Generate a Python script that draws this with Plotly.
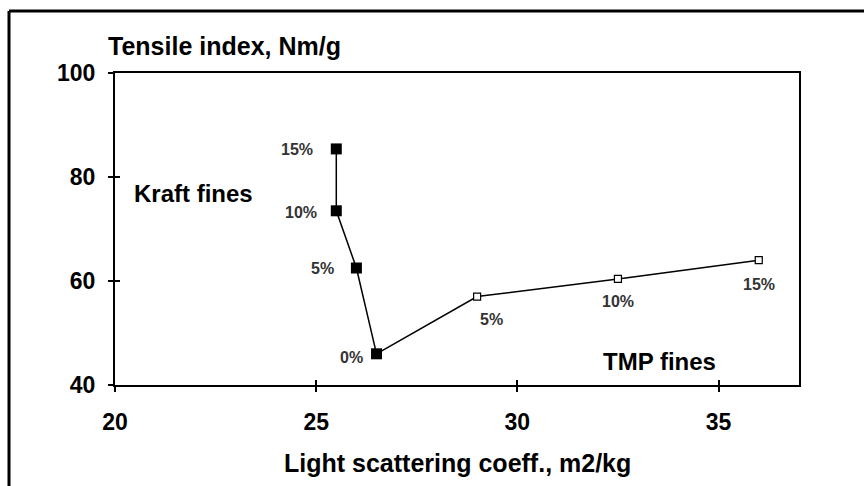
import plotly.graph_objects as go

# Data
kraft_x = [26.5, 26.0, 25.5, 25.5]
kraft_y = [46.0, 62.5, 73.5, 85.4]
kraft_labels = ["0%", "5%", "10%", "15%"]

tmp_x = [26.5, 29.0, 32.5, 36.0]
tmp_y = [46.0, 57.0, 60.4, 64.0]
tmp_labels = ["", "5%", "10%", "15%"]

x_ticks = [20, 25, 30, 35]
y_ticks = [40, 60, 80, 100]

FONT = "Liberation Sans, Arial, sans-serif"
LABEL_COLOR = "#333333"

fig = go.Figure()

fig.add_trace(go.Scatter(
    x=tmp_x, y=tmp_y, mode="lines+markers",
    line=dict(color="black", width=1.5),
    marker=dict(symbol="square", size=7, color="white", line=dict(color="black", width=1.2)),
    showlegend=False, cliponaxis=False,
))

fig.add_trace(go.Scatter(
    x=kraft_x, y=kraft_y, mode="lines+markers",
    line=dict(color="black", width=1.5),
    marker=dict(symbol="square", size=11, color="black"),
    showlegend=False, cliponaxis=False,
))

# label offsets (pixels) — styling only
kraft_shift = [(-12, -4), (-20, 0), (-17, -2), (-21, -1)]
tmp_shift = [(0, 0), (14, -23), (0, -23), (0, -24)]

for x, y, t, (dx, dy) in zip(kraft_x, kraft_y, kraft_labels, kraft_shift):
    fig.add_annotation(x=x, y=y, text=t, showarrow=False, xanchor="right", yanchor="middle",
                       xshift=dx, yshift=dy,
                       font=dict(family=FONT, size=16, color=LABEL_COLOR, weight="bold"))
for x, y, t, (dx, dy) in zip(tmp_x, tmp_y, tmp_labels, tmp_shift):
    if t:
        fig.add_annotation(x=x, y=y, text=t, showarrow=False, xanchor="center", yanchor="middle",
                           xshift=dx, yshift=dy,
                           font=dict(family=FONT, size=16, color=LABEL_COLOR, weight="bold"))

W, H = 864, 486
L, R, T, B = 115, 65, 73, 101
pw, ph = W - L - R, H - T - B

fig.update_layout(
    width=W, height=H,
    margin=dict(l=L, r=R, t=T, b=B),
    paper_bgcolor="white", plot_bgcolor="white",
    font=dict(family=FONT, color="black"),
    xaxis=dict(
        range=[20, 37], tickvals=x_ticks, showgrid=False, zeroline=False,
        showline=True, linecolor="black", linewidth=2, mirror=True,
        ticks="outside", ticklen=5, tickwidth=1.5, tickcolor="black",
        tickfont=dict(family=FONT, size=23, color="black", weight="bold"),
        ticklabelstandoff=10,
    ),
    yaxis=dict(
        range=[40, 100], tickvals=y_ticks, showgrid=False, zeroline=False,
        showline=True, linecolor="black", linewidth=2, mirror=True,
        ticks="outside", ticklen=5, tickwidth=1.5, tickcolor="black",
        tickfont=dict(family=FONT, size=23, color="black", weight="bold"),
        ticklabelstandoff=8,
    ),
    xaxis2=dict(range=[20, 37], overlaying="x", tickvals=x_ticks, showticklabels=False,
                ticks="inside", ticklen=5, tickwidth=1.5, tickcolor="black",
                showgrid=False, zeroline=False, showline=False),
    yaxis2=dict(range=[40, 100], overlaying="y", tickvals=y_ticks, showticklabels=False,
                ticks="inside", ticklen=5, tickwidth=1.5, tickcolor="black",
                showgrid=False, zeroline=False, showline=False),
)

# dummy trace to activate secondary axes for inside ticks
fig.add_trace(go.Scatter(x=[None], y=[None], xaxis="x2", yaxis="y2", showlegend=False, hoverinfo="skip"))

def px_x(px):
    return (px - L) / pw

def px_y(py):
    return (H - B - py) / ph

annos = [
    dict(text="Tensile index, Nm/g", x=px_x(106), y=px_y(46), xanchor="left", size=25),
    dict(text="Kraft fines", x=px_x(132), y=px_y(193), xanchor="left", size=24),
    dict(text="TMP fines", x=px_x(659), y=px_y(361), xanchor="center", size=24),
    dict(text="Light scattering coeff., m2/kg", x=px_x(457), y=px_y(463), xanchor="center", size=25),
]
for a in annos:
    fig.add_annotation(text=a["text"], x=a["x"], y=a["y"], xref="paper", yref="paper",
                       xanchor=a["xanchor"], yanchor="middle", showarrow=False,
                       font=dict(family=FONT, size=a["size"], color="black", weight="bold"))

# outer frame (top and left)
fig.add_shape(type="line", xref="paper", yref="paper", x0=px_x(9), x1=px_x(870), y0=px_y(11), y1=px_y(11),
              line=dict(color="black", width=3))
fig.add_shape(type="line", xref="paper", yref="paper", x0=px_x(9), x1=px_x(9), y0=px_y(11), y1=px_y(495),
              line=dict(color="black", width=3))

fig.write_html("out.html")
